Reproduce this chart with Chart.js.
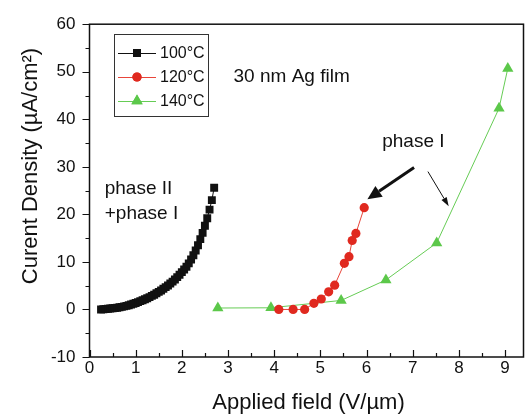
<!DOCTYPE html>
<html>
<head>
<meta charset="utf-8">
<script src="https://cdn.jsdelivr.net/npm/chart.js@4"></script>
<style>
  html, body { margin: 0; padding: 0; background: #fff; }
  #wrap { width: 530px; height: 415px; }
</style>
</head>
<body>
<div id="wrap"><canvas id="grafico"></canvas></div>
<script>
const FONT = '"Liberation Sans", Arial, Helvetica, sans-serif';

// 100 C (black squares)
const campo100 = [0.25, 0.30, 0.35, 0.40, 0.45, 0.50, 0.55, 0.60, 0.65, 0.70, 0.75, 0.80, 0.85, 0.90, 0.95,
  1.00, 1.05, 1.10, 1.15, 1.20, 1.25, 1.30, 1.35, 1.40, 1.45, 1.50, 1.55, 1.60, 1.65, 1.70, 1.75, 1.80,
  1.85, 1.90, 1.95, 2.00, 2.05, 2.10, 2.15, 2.20, 2.25, 2.30, 2.35, 2.40, 2.45, 2.50, 2.55, 2.60, 2.65, 2.70];
const corriente100 = [0.0, 0.05, 0.1, 0.15, 0.2, 0.25, 0.3, 0.35, 0.45, 0.55, 0.65, 0.75, 0.9, 1.05, 1.2,
  1.35, 1.55, 1.75, 1.95, 2.15, 2.35, 2.6, 2.85, 3.1, 3.4, 3.7, 4.0, 4.35, 4.7, 5.05, 5.45, 5.85,
  6.3, 6.8, 7.3, 7.85, 8.4, 9.0, 9.7, 10.5, 11.4, 12.4, 13.5, 14.8, 16.1, 17.6, 19.2, 21.0, 23.0, 25.6];

// 120 C (red circles)
const campo120 = [4.10, 4.41, 4.66, 4.86, 5.02, 5.18, 5.31, 5.52, 5.62, 5.69, 5.77, 5.95];
const corriente120 = [0.0, 0.0, 0.0, 1.3, 2.2, 3.7, 5.1, 9.7, 11.1, 14.5, 16.0, 21.4];

// 140 C (green triangles)
const campo140 = [2.78, 3.93, 5.45, 6.42, 7.52, 8.87, 9.06];
const corriente140 = [0.3, 0.35, 1.9, 6.2, 14.0, 42.3, 50.7];

const ticksX = [0, 1, 2, 3, 4, 5, 6, 7, 8, 9];
const ticksY = [-10, 0, 10, 20, 30, 40, 50, 60];

function puntos(xs, ys) {
  return xs.map((x, i) => ({ x: x, y: ys[i] }));
}

// ticks, marco, leyenda, textos y flechas
const extras = {
  id: "extras",
  afterDraw(chart) {
    const ctx = chart.ctx;
    const a = chart.chartArea;
    const sx = chart.scales.x;
    const sy = chart.scales.y;
    ctx.save();

    // marco
    ctx.strokeStyle = "#111";
    ctx.lineWidth = 1.5;
    ctx.strokeRect(a.left, a.top, a.right - a.left, a.bottom - a.top);

    // ticks eje x (hacia dentro)
    ctx.lineWidth = 1.2;
    ctx.beginPath();
    for (let v = 0; v <= 9.4; v += 0.5) {
      const px = Math.round(sx.getPixelForValue(v)) + 0.5;
      const len = Number.isInteger(v) ? 7 : 4;
      ctx.moveTo(px, a.bottom);
      ctx.lineTo(px, a.bottom - len);
    }
    // ticks eje y (hacia fuera)
    for (let v = -10; v <= 60; v += 5) {
      const py = Math.round(sy.getPixelForValue(v)) + 0.5;
      const len = v % 10 === 0 ? 7 : 4;
      ctx.moveTo(a.left, py);
      ctx.lineTo(a.left - len, py);
    }
    ctx.stroke();

    // títulos de ejes
    ctx.fillStyle = "#111";
    ctx.font = "22px " + FONT;
    ctx.textAlign = "center";
    ctx.textBaseline = "alphabetic";
    ctx.fillText("Applied field (V/\u00b5m)", (a.left + a.right) / 2 + 2, 409);
    ctx.save();
    ctx.translate(37, 166);
    ctx.rotate(-Math.PI / 2);
    ctx.fillText("Curent Density (\u00b5A/cm\u00b2)", 0, 0);
    ctx.restore();

    // leyenda
    const lx = 114, ly = 34, lw = 94, lh = 82;
    ctx.fillStyle = "#fff";
    ctx.fillRect(lx, ly, lw, lh);
    ctx.strokeStyle = "#333";
    ctx.lineWidth = 1;
    ctx.strokeRect(lx + 0.5, ly + 0.5, lw, lh);
    const filas = [53, 77, 101];
    chart.data.datasets.forEach((ds, i) => {
      const y = filas[i];
      ctx.strokeStyle = ds.borderColor;
      ctx.lineWidth = 1;
      ctx.beginPath();
      ctx.moveTo(118, y + 0.5);
      ctx.lineTo(156, y + 0.5);
      ctx.stroke();
      ctx.fillStyle = ds.backgroundColor;
      Chart.helpers.drawPoint(ctx, { pointStyle: ds.pointStyle, radius: ds.pointRadius, borderWidth: 0, rotation: 0 }, 137, y);
      ctx.fill();
      ctx.fillStyle = "#111";
      ctx.font = "16px " + FONT;
      ctx.textAlign = "left";
      ctx.textBaseline = "middle";
      ctx.fillText(ds.label, 160, y + 1);
    });

    // anotaciones
    const X = (v) => sx.getPixelForValue(v);
    const Y = (v) => sy.getPixelForValue(v);
    ctx.fillStyle = "#111";
    ctx.textAlign = "left";
    ctx.textBaseline = "alphabetic";
    ctx.font = "19px " + FONT;
    ctx.fillText("30 nm Ag film", X(3.12), Y(47.9));
    ctx.fillText("phase II", X(0.33), Y(24.2));
    ctx.fillText("+phase I", X(0.33), Y(19.0));
    ctx.fillText("phase I", X(6.34), Y(34.2));

    flecha(ctx, X(7.03), Y(29.85), X(6.02), Y(23.2), 3, 14, 6.5);
    flecha(ctx, X(7.33), Y(29.0), X(7.78), Y(21.7), 1, 9, 3);

    ctx.restore();
  }
};

function flecha(ctx, x1, y1, x2, y2, ancho, largoPunta, anchoPunta) {
  const ang = Math.atan2(y2 - y1, x2 - x1);
  const bx = x2 - Math.cos(ang) * largoPunta;
  const by = y2 - Math.sin(ang) * largoPunta;
  ctx.strokeStyle = "#111";
  ctx.fillStyle = "#111";
  ctx.lineWidth = ancho;
  ctx.beginPath();
  ctx.moveTo(x1, y1);
  ctx.lineTo(bx, by);
  ctx.stroke();
  ctx.beginPath();
  ctx.moveTo(x2, y2);
  ctx.lineTo(bx + Math.sin(ang) * anchoPunta, by - Math.cos(ang) * anchoPunta);
  ctx.lineTo(bx - Math.sin(ang) * anchoPunta, by + Math.cos(ang) * anchoPunta);
  ctx.closePath();
  ctx.fill();
}

new Chart(document.getElementById("grafico"), {
  type: "scatter",
  data: {
    datasets: [
      {
        label: "100\u00b0C",
        data: puntos(campo100, corriente100),
        showLine: true,
        borderColor: "#111",
        backgroundColor: "#111",
        borderWidth: 1,
        pointStyle: "rect",
        pointRadius: 5.6,
        pointBorderWidth: 0
      },
      {
        label: "120\u00b0C",
        data: puntos(campo120, corriente120),
        showLine: true,
        borderColor: "#e8453a",
        backgroundColor: "#e0291f",
        borderWidth: 1,
        pointStyle: "circle",
        pointRadius: 4.6,
        pointBorderWidth: 0
      },
      {
        label: "140\u00b0C",
        data: puntos(campo140, corriente140),
        showLine: true,
        borderColor: "#66cc55",
        backgroundColor: "#5cc84a",
        borderWidth: 1,
        pointStyle: "triangle",
        pointRadius: 6.5,
        pointBorderWidth: 0
      }
    ]
  },
  options: {
    responsive: true,
    maintainAspectRatio: false,
    animation: false,
    layout: { padding: { top: 21, right: 3, left: 0, bottom: 0 } },
    plugins: { legend: { display: false }, tooltip: { enabled: false } },
    scales: {
      x: {
        type: "linear",
        min: 0,
        max: 9.4,
        afterBuildTicks: (s) => { s.ticks = ticksX.map(v => ({ value: v })); },
        afterFit: (s) => { s.height = 58; },
        grid: { display: false, drawTicks: false },
        border: { display: false },
        ticks: { color: "#111", font: { family: FONT, size: 17 }, padding: 1, maxRotation: 0 }
      },
      y: {
        type: "linear",
        min: -10,
        max: 60,
        afterBuildTicks: (s) => { s.ticks = ticksY.map(v => ({ value: v })); },
        afterFit: (s) => { s.width = 89.5; },
        grid: { display: false, drawTicks: false },
        border: { display: false },
        ticks: { color: "#111", font: { family: FONT, size: 17 }, padding: 14 }
      }
    }
  },
  plugins: [extras]
});
</script>
</body>
</html>
